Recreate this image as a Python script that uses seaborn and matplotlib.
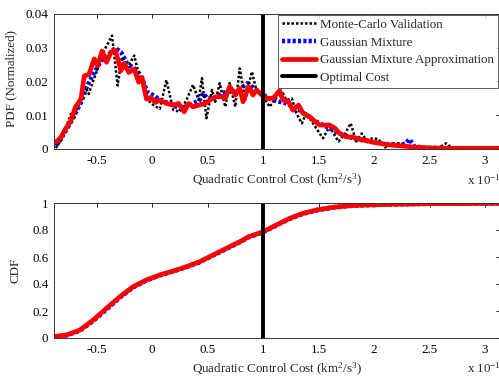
import numpy as np
import pandas as pd
import matplotlib
matplotlib.use("Agg")
import matplotlib.pyplot as plt
import seaborn as sns
from matplotlib.lines import Line2D

# ---------------- data (x in units of 1e-10 km^2/s^3) ----------------
mc_x = [-0.867,-0.82,-0.78,-0.73,-0.70,-0.67,-0.63,-0.60,-0.57,-0.53,-0.49,-0.45,-0.40,-0.36,-0.31,-0.27,-0.22,-0.16,-0.12,-0.07,-0.03,0.02,0.07,0.13,0.19,0.25,0.31,0.37,0.42,0.45,0.49,0.54,0.57,0.61,0.66,0.70,0.75,0.79,0.84,0.90,0.94,1.00,1.06,1.11,1.18,1.21,1.26,1.30,1.35,1.39,1.45,1.54,1.60,1.68,1.74,1.79,1.84,1.89,1.93,1.99,2.04,2.10,2.17,2.23,2.29,2.38,2.50,2.58,2.65,2.70,2.80,3.13]
mc_pdf = [0.0003,0.0025,0.0060,0.0104,0.0094,0.0124,0.0148,0.0183,0.0163,0.0202,0.0237,0.0281,0.0311,0.0336,0.0188,0.0272,0.0242,0.0277,0.0222,0.0188,0.0143,0.0128,0.0119,0.0204,0.0116,0.0110,0.0145,0.0190,0.0145,0.0210,0.0091,0.0175,0.0140,0.0195,0.0125,0.0195,0.0125,0.0239,0.0145,0.0229,0.0175,0.0155,0.0125,0.0150,0.0165,0.0145,0.0150,0.0106,0.0076,0.0106,0.0076,0.0032,0.0066,0.0022,0.0046,0.0076,0.0022,0.0046,0.0027,0.0032,0.0029,0.0005,0.0017,0.0017,0.0009,0.0005,0.0003,0.0003,0.0017,0.0003,0.0,0.0]

gm_x = [-0.867,-0.82,-0.73,-0.64,-0.58,-0.52,-0.46,-0.40,-0.33,-0.28,-0.22,-0.15,-0.10,-0.04,0.02,0.08,0.16,0.25,0.34,0.43,0.46,0.50,0.55,0.67,0.76,0.86,0.94,1.03,1.09,1.21,1.33,1.45,1.57,1.69,1.84,1.96,2.10,2.24,2.28,2.32,2.36,2.45,2.70,3.13]
gm_pdf = [0.001,0.003,0.008,0.0138,0.019,0.0227,0.026,0.0277,0.030,0.0287,0.0252,0.0237,0.0217,0.0168,0.0158,0.0143,0.0135,0.0120,0.0130,0.0145,0.0165,0.0150,0.0150,0.0170,0.0170,0.0195,0.0175,0.0155,0.0145,0.0135,0.0115,0.0086,0.0066,0.0046,0.0029,0.0022,0.0014,0.0012,0.0016,0.0029,0.0008,0.0004,0.0002,0.0001]

gma_x = [-0.867,-0.82,-0.78,-0.73,-0.69,-0.64,-0.61,-0.57,-0.52,-0.49,-0.45,-0.41,-0.37,-0.33,-0.28,-0.25,-0.21,-0.16,-0.12,-0.09,-0.05,-0.01,0.03,0.07,0.13,0.19,0.24,0.29,0.33,0.37,0.42,0.48,0.52,0.58,0.63,0.66,0.70,0.75,0.79,0.82,0.87,0.91,0.94,0.99,1.03,1.09,1.15,1.18,1.23,1.27,1.32,1.36,1.42,1.47,1.51,1.56,1.60,1.65,1.69,1.75,1.81,1.87,1.93,2.01,2.05,2.14,2.26,2.38,2.50,2.70,2.90,3.13]
gma_pdf = [0.0020,0.0035,0.0059,0.0084,0.0124,0.0148,0.0217,0.0220,0.0267,0.0247,0.0290,0.0257,0.0287,0.0293,0.0232,0.0254,0.0227,0.0237,0.0198,0.0212,0.0148,0.0153,0.0138,0.0145,0.0135,0.0130,0.0135,0.0110,0.0135,0.0125,0.0130,0.0135,0.0145,0.0155,0.0155,0.0150,0.0185,0.0160,0.0180,0.0140,0.0185,0.0160,0.0175,0.0160,0.0150,0.0150,0.0173,0.0145,0.0140,0.0115,0.0130,0.0106,0.0096,0.0081,0.0071,0.0071,0.0071,0.0061,0.0046,0.0036,0.0035,0.0029,0.0025,0.0019,0.0017,0.0012,0.0009,0.0005,0.0003,0.0002,0.0002,0.0002]

cdf_x = [-0.89,-0.77,-0.65,-0.53,-0.41,-0.29,-0.17,-0.05,0.07,0.19,0.31,0.43,0.55,0.67,0.79,0.87,1.00,1.12,1.24,1.36,1.48,1.63,1.78,1.93,2.14,2.50,3.13]
gm_cdf = [0.008,0.020,0.055,0.127,0.213,0.300,0.376,0.427,0.465,0.494,0.526,0.563,0.612,0.661,0.710,0.747,0.784,0.834,0.883,0.921,0.946,0.967,0.979,0.985,0.990,0.995,0.998]
gma_cdf = [0.010,0.022,0.059,0.133,0.220,0.306,0.380,0.430,0.467,0.496,0.528,0.565,0.615,0.664,0.713,0.750,0.787,0.837,0.886,0.923,0.948,0.968,0.980,0.985,0.990,0.995,0.998]

optimal_cost = 1.0
labels = ["Monte-Carlo Validation", "Gaussian Mixture",
          "Gaussian Mixture Approximation", "Optimal Cost"]
x_ticks = [-0.5, 0, 0.5, 1, 1.5, 2, 2.5, 3]
pdf_ticks = [0, 0.01, 0.02, 0.03, 0.04]
cdf_ticks = [0, 0.2, 0.4, 0.6, 0.8, 1]

# ---------------- style ----------------
sns.set_style("white")
plt.rcParams["font.family"] = ["Liberation Serif", "DejaVu Serif"]
plt.rcParams["mathtext.default"] = "regular"
plt.rcParams["axes.unicode_minus"] = False
FS = 9.4
plt.rcParams["font.size"] = FS

W, H = 499, 377
fig = plt.figure(figsize=(W / 100, H / 100), dpi=100)
fig.patch.set_facecolor("white")

def ax_rect(l, r, t, b):
    return [l / W, 1 - b / H, (r - l) / W, (b - t) / H]

ax1 = fig.add_axes(ax_rect(54, 500, 14, 149))
ax2 = fig.add_axes(ax_rect(54, 500, 203, 338))

xmin, xmax = (54 - 152) / 111, (500 - 152) / 111

def fmt(v):
    return "%g" % v

mc_style = dict(color="black", lw=1.8, linestyle=(0, (1, 0.8)))
gm_style = dict(color="blue", lw=3.2, linestyle=(0, (0.7, 0.5)))
gma_style = dict(color="red", lw=3.4, linestyle="-")
opt_style = dict(color="black", lw=2.8)

# top: PDF
sns.lineplot(x=gm_x, y=gm_pdf, ax=ax1, sort=False, **gm_style)
sns.lineplot(x=mc_x, y=mc_pdf, ax=ax1, sort=False, **mc_style)
sns.lineplot(x=gma_x, y=gma_pdf, ax=ax1, sort=False, **gma_style)
ax1.axvline(optimal_cost, **opt_style)
ax1.set_ylim(0, 0.04)
ax1.set_yticks(pdf_ticks)
ax1.set_yticklabels([fmt(v) for v in pdf_ticks])
ax1.set_ylabel("PDF (Normalized)")
ax1.yaxis.set_label_coords((17 - 54) / 446, 0.52)

# bottom: CDF
sns.lineplot(x=cdf_x, y=gm_cdf, ax=ax2, sort=False, **dict(gm_style, lw=3.4))
sns.lineplot(x=cdf_x, y=gma_cdf, ax=ax2, sort=False, **dict(gma_style, lw=3.4))
ax2.axvline(optimal_cost, **opt_style)
ax2.set_ylim(0, 1)
ax2.set_yticks(cdf_ticks)
ax2.set_yticklabels([fmt(v) for v in cdf_ticks])
ax2.set_ylabel("CDF")
ax2.yaxis.set_label_coords((22 - 54) / 446, 0.5)

for ax in (ax1, ax2):
    ax.set_xlim(xmin, xmax)
    ax.set_xticks(x_ticks)
    ax.set_xticklabels([fmt(v) for v in x_ticks])
    ax.set_xlabel("Quadratic Control Cost (km$^2$/s$^3$)", labelpad=4)
    ax.tick_params(direction="in", top=True, right=True, length=3,
                   width=0.6, colors="black", labelsize=FS, pad=4)
    for sp in ax.spines.values():
        sp.set_color("#333333")
        sp.set_linewidth(0.7)
        sp.set_visible(True)
    ax.grid(False)

# offset multiplier text
fig.text(467 / W, 1 - 185 / H, "x 10$^{-10}$", fontsize=FS, va="baseline", ha="left")
fig.text(467 / W, 1 - 373 / H, "x 10$^{-10}$", fontsize=FS, va="baseline", ha="left")

handles = [Line2D([], [], **mc_style), Line2D([], [], **gm_style),
           Line2D([], [], **gma_style), Line2D([], [], **opt_style)]
leg = ax1.legend(handles, labels, loc="upper right",
                 bbox_to_anchor=(444 / 446, 1 - 1 / 135),
                 borderaxespad=0, frameon=True, fancybox=False,
                 handlelength=2.6, handletextpad=0.35, labelspacing=0.42,
                 borderpad=0.3, fontsize=FS)
leg.get_frame().set_edgecolor("#333333")
leg.get_frame().set_linewidth(0.7)

fig.savefig("out.png", dpi=100, facecolor="white")
